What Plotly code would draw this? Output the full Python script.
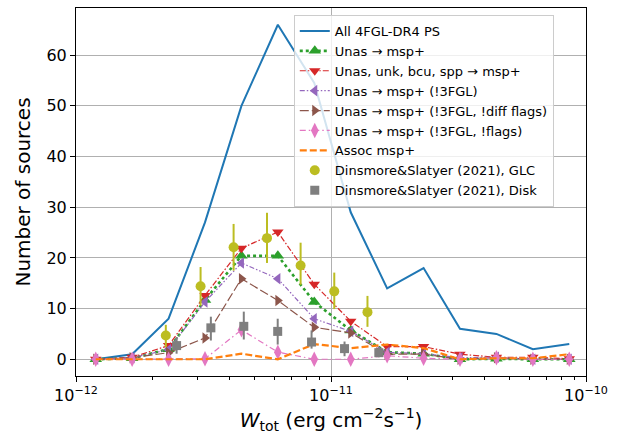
import plotly.graph_objects as go

# bin centres (erg cm^-2 s^-1)
x_bins = [1.195e-12, 1.660e-12, 2.307e-12, 3.205e-12, 4.454e-12, 6.188e-12, 8.598e-12,
          1.195e-11, 1.660e-11, 2.307e-11, 3.205e-11, 4.454e-11, 6.188e-11, 8.598e-11]

all_ps      = [0, 1, 8, 27, 50, 66, 54.5, 29, 14, 18, 6, 5, 2, 3]
unas        = [0, 0.2, 2.0, 11.7, 20.4, 20.4, 11.3, 5.7, 1.4, 1.1, 0, 0.1, 0, 0]
unas_all    = [0, 0.4, 2.7, 12.6, 21.9, 25.1, 14.8, 7.5, 2.5, 2.5, 1.0, 0.4, 0.4, 0.1]
unas_n3     = [0, 0.3, 1.9, 11.3, 19.0, 15.9, 8.0, 5.5, 1.4, 1.1, 0.3, 0.4, 0, 0]
unas_n3_dif = [0, 0.3, 1.3, 4.2, 15.9, 11.6, 6.3, 5.2, 1.0, 1.0, 0, 0.3, 0, 0]
unas_n3_fl  = [0, 0, 0, 0.1, 5.8, 1.4, 0, 0, 0.7, 0.2, 0, 0.3, 0, 0]
assoc       = [0, 0, 0, 0, 1.1, 0, 3.0, 2.2, 2.9, 2.2, 0, 0.2, 0.2, 1.0]

glc_x   = [2.25e-12, 3.08e-12, 4.15e-12, 5.61e-12, 7.60e-12, 1.03e-11, 1.39e-11]
glc_y   = [4.7, 14.4, 22.1, 23.9, 18.5, 13.4, 9.3]
glc_hi  = [6.8, 18.2, 26.7, 28.9, 23.0, 17.1, 12.5]
glc_lo  = [2.4, 10.6, 17.5, 19.0, 14.7, 9.9, 6.4]

disk_x  = [2.48e-12, 3.38e-12, 4.55e-12, 6.18e-12, 8.39e-12, 1.13e-11, 1.54e-11]
disk_y  = [2.7, 6.2, 6.5, 5.5, 3.4, 2.1, 1.3]
disk_hi = [4.4, 8.4, 9.4, 8.0, 5.7, 3.5, 2.0]
disk_lo = [1.1, 3.7, 3.9, 2.9, 2.1, 0.6, 0.4]

x_tickvals = [1e-12, 1e-11, 1e-10]
x_ticktext = ["10<sup>−12</sup>", "10<sup>−11</sup>", "10<sup>−10</sup>"]
y_tickvals = [0, 10, 20, 30, 40, 50, 60]

fig = go.Figure()
fig.add_trace(go.Scatter(x=x_bins, y=all_ps, mode="lines", name="All 4FGL-DR4 PS",
                         line=dict(color="#1f77b4", width=2)))
fig.add_trace(go.Scatter(x=x_bins, y=unas, mode="lines+markers", name="Unas → msp+",
                         line=dict(color="#2ca02c", width=2.6, dash="dot"),
                         marker=dict(symbol="triangle-up", size=11, color="#2ca02c")))
fig.add_trace(go.Scatter(x=x_bins, y=unas_all, mode="lines+markers", name="Unas, unk, bcu, spp → msp+",
                         line=dict(color="#d62728", width=1.2, dash="6px,2px,1.5px,2px"),
                         marker=dict(symbol="triangle-down", size=10, color="#d62728")))
fig.add_trace(go.Scatter(x=x_bins, y=unas_n3, mode="lines+markers", name="Unas → msp+ (!3FGL)",
                         line=dict(color="#9467bd", width=1.2, dash="5px,2px,1.5px,2px,1.5px,2px"),
                         marker=dict(symbol="triangle-left", size=10, color="#9467bd")))
fig.add_trace(go.Scatter(x=x_bins, y=unas_n3_dif, mode="lines+markers", name="Unas → msp+ (!3FGL, !diff flags)",
                         line=dict(color="#8c564b", width=1.2, dash="9px,3px"),
                         marker=dict(symbol="triangle-right", size=10, color="#8c564b")))
fig.add_trace(go.Scatter(x=x_bins, y=unas_n3_fl, mode="lines+markers", name="Unas → msp+ (!3FGL, !flags)",
                         line=dict(color="#e377c2", width=1.2, dash="6px,3px,1.5px,3px"),
                         marker=dict(symbol="diamond-tall", size=11, color="#e377c2")))
fig.add_trace(go.Scatter(x=x_bins, y=assoc, mode="lines", name="Assoc msp+",
                         line=dict(color="#ff7f0e", width=2.2, dash="7px,3px")))
fig.add_trace(go.Scatter(x=glc_x, y=glc_y, mode="markers", name="Dinsmore&Slatyer (2021), GLC",
                         marker=dict(symbol="circle", size=10, color="#bcbd22"),
                         error_y=dict(type="data", symmetric=False,
                                      array=[h - v for h, v in zip(glc_hi, glc_y)],
                                      arrayminus=[v - l for l, v in zip(glc_lo, glc_y)],
                                      color="#bcbd22", thickness=2, width=0)))
fig.add_trace(go.Scatter(x=disk_x, y=disk_y, mode="markers", name="Dinsmore&Slatyer (2021), Disk",
                         marker=dict(symbol="square", size=9, color="#7f7f7f"),
                         error_y=dict(type="data", symmetric=False,
                                      array=[h - v for h, v in zip(disk_hi, disk_y)],
                                      arrayminus=[v - l for l, v in zip(disk_lo, disk_y)],
                                      color="#7f7f7f", thickness=2, width=0)))

fig.update_layout(
    width=626, height=440,
    margin=dict(l=76, r=40, t=8, b=64),
    paper_bgcolor="white", plot_bgcolor="white",
    font=dict(family="DejaVu Sans", color="black"),
    showlegend=True,
    legend=dict(x=0.427, y=0.981, xanchor="left", yanchor="top",
                bgcolor="rgba(255,255,255,0.8)", bordercolor="#cccccc", borderwidth=1,
                font=dict(size=13, family="DejaVu Sans"), tracegroupgap=0),
    xaxis=dict(type="log", range=[-12, -10], tickvals=x_tickvals, ticktext=x_ticktext,
               tickfont=dict(size=16), ticks="outside", ticklen=5, tickcolor="black",
               showline=True, linecolor="black", linewidth=1, mirror=True,
               showgrid=True, gridcolor="#b0b0b0", gridwidth=1, zeroline=False,
               minor=dict(ticks="outside", ticklen=3, tickcolor="black", dtick="D1", showgrid=False),
               title=dict(text="<i>W</i><sub>tot</sub> (erg cm<sup>−2</sup>s<sup>−1</sup>)",
                          font=dict(size=20), standoff=8)),
    yaxis=dict(range=[-3.3, 69.3], tickvals=y_tickvals, tickfont=dict(size=16),
               ticks="outside", ticklen=5, tickcolor="black",
               showline=True, linecolor="black", linewidth=1, mirror=True,
               showgrid=True, gridcolor="#b0b0b0", gridwidth=1, zeroline=False,
               title=dict(text="Number of sources", font=dict(size=20), standoff=10)),
)

fig.write_html("out.html")
